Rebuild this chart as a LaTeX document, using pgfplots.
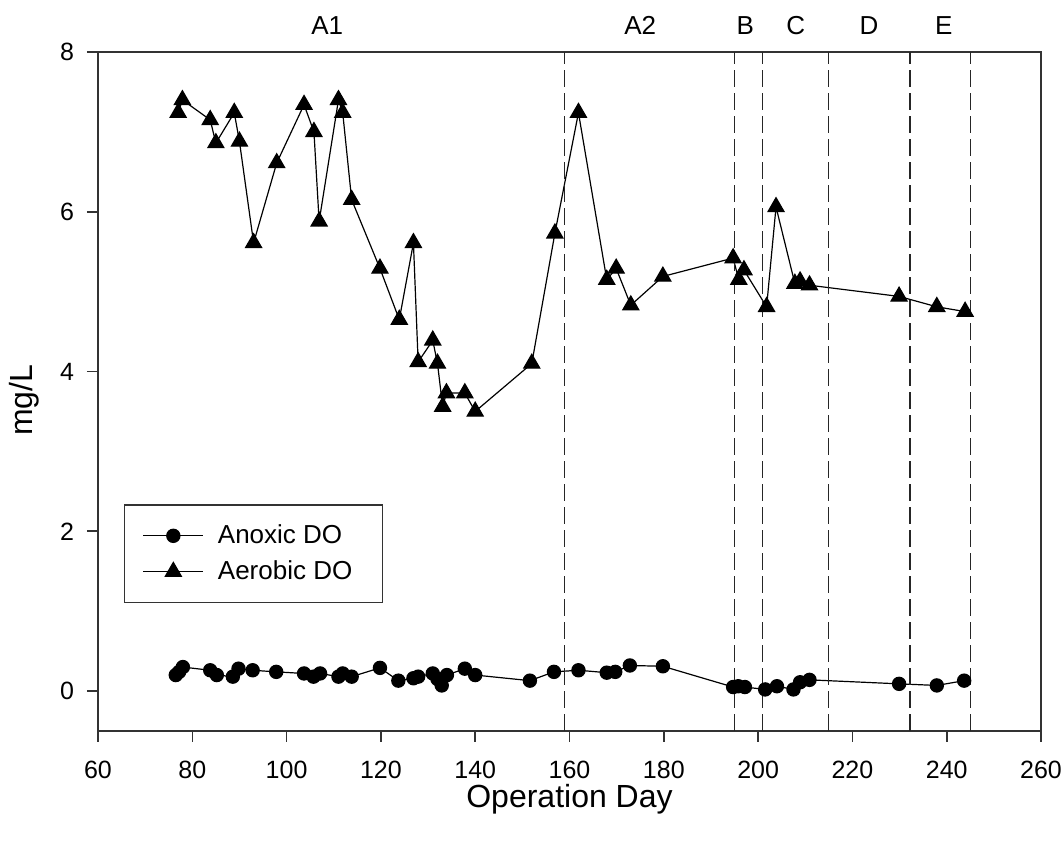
\documentclass[border=0pt]{standalone}
\usepackage{fontspec}
\setmainfont{Liberation Sans}
\usepackage{pgfplots}
\pgfplotsset{compat=1.18}

\pgfplotstableread{
day   do
76.5  0.20
77.2  0.24
78.0  0.30
83.8  0.26
85.2  0.20
88.6  0.18
89.8  0.28
92.8  0.26
97.8  0.24
103.7 0.22
105.7 0.18
107.1 0.22
111.0 0.18
111.9 0.22
113.8 0.18
119.8 0.29
123.7 0.13
126.9 0.16
127.9 0.18
131.0 0.22
132.0 0.15
132.9 0.07
134.0 0.20
137.8 0.28
140.0 0.20
151.6 0.13
156.7 0.24
161.9 0.26
167.9 0.23
169.7 0.24
172.8 0.32
179.8 0.31
194.7 0.05
195.8 0.06
197.2 0.05
201.5 0.02
204.0 0.06
207.5 0.02
208.9 0.11
210.9 0.14
229.9 0.09
237.9 0.07
243.7 0.13
}\anoxic

\pgfplotstableread{
day   do
77.0  7.24
77.9  7.40
83.8  7.15
85.0  6.86
88.9  7.24
90.0  6.88
93.0  5.61
97.9  6.61
103.7 7.34
105.8 7.00
106.9 5.88
111.0 7.40
111.9 7.24
113.8 6.15
119.8 5.29
123.9 4.65
126.9 5.61
127.9 4.12
131.0 4.39
132.0 4.10
133.1 3.56
133.9 3.73
137.8 3.73
140.0 3.50
152.0 4.10
156.9 5.73
161.9 7.24
167.9 5.15
169.9 5.29
173.0 4.83
179.8 5.19
194.7 5.42
195.9 5.15
197.0 5.27
201.8 4.81
203.8 6.06
207.8 5.10
208.9 5.13
210.9 5.08
229.9 4.94
237.9 4.81
243.9 4.75
}\aerobic

\begin{document}
\begin{tikzpicture}
\begin{axis}[
  scale only axis,
  width=471.5pt, height=339.5pt,
  xmin=60, xmax=260, ymin=-0.5, ymax=8,
  xtick={60,80,...,260}, ytick={0,2,4,6,8},
  tick align=outside, xtick pos=bottom, ytick pos=left,
  major tick length=5.5pt,
  axis line style={line width=0.9pt, black!80},
  tick style={line width=0.8pt, black!80},
  tick label style={font=\fontsize{12.5}{14}\selectfont},
  /pgf/number format/assume math mode=true,
  xticklabel style={yshift=-6pt},
  yticklabel style={xshift=-3pt},
  xlabel={Operation Day}, ylabel={mg/L},
  label style={font=\fontsize{16}{18}\selectfont},
  xlabel style={at={(axis description cs:0.5,0)}, anchor=center, yshift=-34pt},
  ylabel style={at={(axis description cs:0,0.487)}, anchor=center, yshift=37pt},
  clip=false,
  legend style={at={(0.0276,0.334)}, anchor=north west, draw=black!80,
    line width=0.7pt, font=\fontsize{13}{15}\selectfont,
    inner xsep=9pt, inner ysep=8pt, row sep=3pt, cells={anchor=west}},
  legend image code/.code={\draw[mark repeat=2, mark phase=2, #1]
    plot coordinates {(0pt,0pt) (15pt,0pt) (30pt,0pt)};},
]
\addplot[black, line width=0.6pt, mark=*, mark size=3.3pt] table[x=day, y=do] {\anoxic};
\addlegendentry{\hspace{5pt}Anoxic DO\rule{4pt}{0pt}}
\addplot[black, line width=0.6pt, mark=triangle*, mark size=4.6pt] table[x=day, y=do] {\aerobic};
\addlegendentry{\hspace{5pt}Aerobic DO\rule{4pt}{0pt}}
\foreach \d in {159,195,201,215,232.2,245.1} {
  \edef\tmp{\noexpand\addplot[black!85, line width=0.6pt, dash pattern=on 8.5pt off 3pt, forget plot]
    coordinates {(\d,-0.5) (\d,8)};}
  \tmp
}
\begin{scope}[every node/.style={font=\fontsize{13}{15}\selectfont}]
\node at (axis cs:108.6,8.33) {A1};
\node at (axis cs:175,8.33) {A2};
\node at (axis cs:197.3,8.33) {B};
\node at (axis cs:208,8.33) {C};
\node at (axis cs:223.5,8.33) {D};
\node at (axis cs:239.4,8.33) {E};
\end{scope}
\coordinate (sw) at (rel axis cs:0,0);
\coordinate (ne) at (rel axis cs:1,1);
\end{axis}
\pgfresetboundingbox
\path ([shift={(-49pt,-56pt)}]sw) rectangle ([shift={(11pt,26pt)}]ne);
\end{tikzpicture}
\end{document}
